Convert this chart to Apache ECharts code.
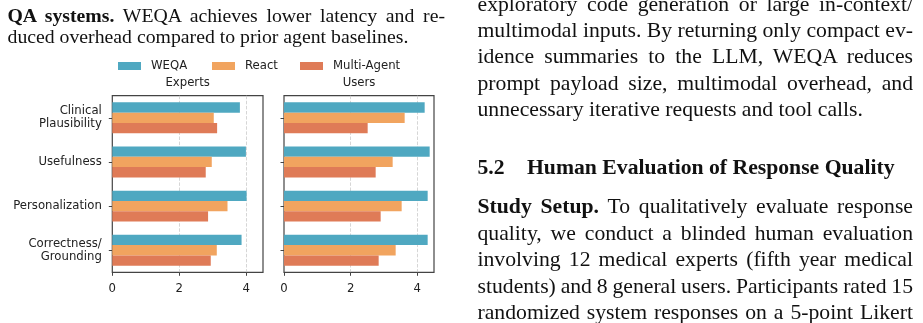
<!DOCTYPE html>
<html>
<head>
<meta charset="utf-8">
<script src="https://cdn.jsdelivr.net/npm/echarts@6/dist/echarts.min.js"></script>
<style>
  html, body { margin: 0; padding: 0; background: #ffffff; }
  body { width: 923px; height: 323px; overflow: hidden; position: relative; }
  #chart { position: absolute; left: 0; top: 0; width: 923px; height: 323px; }
  .ln { position: absolute; white-space: nowrap; line-height: 1; color: #111;
        font-family: "Liberation Serif", "Times New Roman", serif; pointer-events: none; }
</style>
</head>
<body>
<div id="chart"></div>
<script>
// ---------------- data ----------------
const categories = ['Clinical\nPlausibility', 'Usefulness', 'Personalization', 'Correctness/\nGrounding'];
const systems = ['WEQA', 'React', 'Multi-Agent'];
const panelTitles = ['Experts', 'Users'];
const xTicks = [0, 2, 4];

const expertsWEQA  = [3.81, 3.99, 4.01, 3.86];
const expertsReact = [3.03, 2.97, 3.44, 3.12];
const expertsMulti = [3.13, 2.79, 2.86, 2.94];

const usersWEQA  = [4.22, 4.37, 4.31, 4.31];
const usersReact = [3.62, 3.26, 3.53, 3.35];
const usersMulti = [2.51, 2.75, 2.90, 2.84];

// surrounding page text
const captionLines = [
  { bold: 'QA systems.', text: ' WEQA achieves lower latency and re-', justify: true },
  { bold: '', text: 'duced overhead compared to prior agent baselines.', justify: false }
];
const bodyLinesTop = [
  { bold: '', text: 'exploratory code generation or large in-context/', justify: true },
  { bold: '', text: 'multimodal inputs. By returning only compact ev-', justify: true },
  { bold: '', text: 'idence summaries to the LLM, WEQA reduces', justify: true },
  { bold: '', text: 'prompt payload size, multimodal overhead, and', justify: true },
  { bold: '', text: 'unnecessary iterative requests and tool calls.', justify: false }
];
const headingNumber = '5.2';
const headingText = 'Human Evaluation of Response Quality';
const bodyLinesBottom = [
  { bold: 'Study Setup.', text: ' To qualitatively evaluate response', justify: true },
  { bold: '', text: 'quality, we conduct a blinded human evaluation', justify: true },
  { bold: '', text: 'involving 12 medical experts (fifth year medical', justify: true },
  { bold: '', text: 'students) and 8 general users. Participants rated 15', justify: true },
  { bold: '', text: 'randomized system responses on a 5-point Likert', justify: true }
];

// ---------------- page text layout ----------------
const ASC = 0.8375; // baseline offset for Liberation Serif with line-height 1
const placed = [];
function addLine(html, x, base, fs, width, justify, weight) {
  const d = document.createElement('div');
  d.className = 'ln';
  d.style.left = x + 'px';
  d.style.top = (base - ASC * fs) + 'px';
  d.style.fontSize = fs + 'px';
  if (weight) d.style.fontWeight = weight;
  d.innerHTML = html;
  document.body.appendChild(d);
  placed.push({ d, width, justify });
}
function esc(s) { return s.replace(/&/g, '&amp;').replace(/</g, '&lt;'); }
function lineHtml(l) { return (l.bold ? '<b>' + esc(l.bold) + '</b>' : '') + esc(l.text); }
function justifyAll() {
  placed.forEach(p => {
    if (!p.justify) return;
    p.d.style.wordSpacing = '0px';
    const w = p.d.getBoundingClientRect().width;
    const n = (p.d.textContent.match(/ /g) || []).length;
    if (n > 0) p.d.style.wordSpacing = ((p.width - w) / n) + 'px';
  });
}

const capFs = 19.75, bodyFs = 21.7;
const leftX = 7.5, colW = 437.5, rightX = 477.5, rightW = 435.5;
const capBase = [22.4, 43.4];
captionLines.forEach((l, i) => addLine(lineHtml(l), leftX, capBase[i], capFs, colW, l.justify));
const topBase = [11.7, 38.1, 64.5, 90.9, 117.3];
bodyLinesTop.forEach((l, i) => addLine(lineHtml(l), rightX, topBase[i], bodyFs, rightW, l.justify));
addLine(esc(headingNumber), rightX, 175, bodyFs, 0, false, 'bold');
addLine(esc(headingText), 527, 175, bodyFs, 0, false, 'bold');
const botBase = [214.5, 241, 267.5, 294, 320.5];
bodyLinesBottom.forEach((l, i) => addLine(lineHtml(l), rightX, botBase[i], bodyFs, rightW, l.justify));
justifyAll();
if (document.fonts && document.fonts.ready) document.fonts.ready.then(justifyAll);

// ---------------- chart ----------------
const colors = { 'WEQA': '#4FA8C1', 'React': '#F1A45F', 'Multi-Agent': '#DF7B57' };
const FONT = 'DejaVu Sans';
const FS = 11.7;
const TXT = '#222222';
const FRAME = '#444444';

const grids = [
  { left: 112.3, top: 95.7, width: 150.7, height: 176.6 },
  { left: 284, top: 95.7, width: 150, height: 176.6 }
];

function xAxisFor(i) {
  return {
    gridIndex: i, type: 'value', min: 0, max: 4.5, interval: 2,
    axisLine: { show: false },
    axisTick: { show: true, length: 3.5, customValues: xTicks, lineStyle: { color: FRAME, width: 1 } },
    axisLabel: { customValues: xTicks, margin: 10.5, fontSize: FS, color: TXT, fontFamily: FONT },
    splitLine: { show: true, showMinLine: false, lineStyle: { type: [3.5, 1.6], color: '#cccccc', width: 0.8 } }
  };
}
function yAxisFor(i) {
  return {
    gridIndex: i, type: 'category', data: categories, inverse: true,
    axisLine: { show: false },
    axisTick: { show: true, alignWithLabel: true, length: 3.5, lineStyle: { color: FRAME, width: 1 } },
    axisLabel: { show: i === 0, margin: 10.5, fontSize: FS, lineHeight: 13, color: TXT, fontFamily: FONT, align: 'right' },
    splitLine: { show: false }
  };
}
function bar(name, data, gi) {
  return {
    type: 'bar', name, data, xAxisIndex: gi, yAxisIndex: gi,
    barWidth: 10.3, barGap: '0%', itemStyle: { color: colors[name] },
    emphasis: { disabled: true }
  };
}
const legendLefts = [118, 212, 300];

const option = {
  animation: false,
  textStyle: { fontFamily: FONT },
  grid: grids.map(g => Object.assign({ show: true, borderColor: FRAME, borderWidth: 1.2, backgroundColor: 'transparent' }, g)),
  xAxis: [xAxisFor(0), xAxisFor(1)],
  yAxis: [yAxisFor(0), yAxisFor(1)],
  legend: systems.map((s, i) => ({
    data: [s], left: legendLefts[i], top: 60, padding: 0, icon: 'rect',
    itemWidth: 23, itemHeight: 8,
    textStyle: { fontSize: FS, color: TXT, fontFamily: FONT, padding: [0, 0, 0, 5] }
  })),
  graphic: panelTitles.map((t, i) => ({
    type: 'text', x: grids[i].left + grids[i].width / 2, y: 83,
    style: { text: t, fill: TXT, font: FS + 'px "' + FONT + '"', textAlign: 'center', textVerticalAlign: 'middle' }
  })),
  series: [
    bar('WEQA', expertsWEQA, 0), bar('React', expertsReact, 0), bar('Multi-Agent', expertsMulti, 0),
    bar('WEQA', usersWEQA, 1), bar('React', usersReact, 1), bar('Multi-Agent', usersMulti, 1)
  ]
};
const chart = echarts.init(document.getElementById('chart'), null, { renderer: 'canvas' });
chart.setOption(option);
</script>
</body>
</html>
